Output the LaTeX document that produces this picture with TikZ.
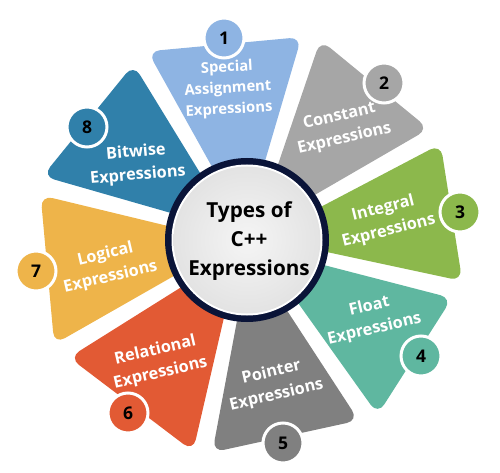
\documentclass[tikz,border=0pt]{standalone}
\usepackage{fontspec}
\newfontfamily\sbfont{Open Sans}
\usetikzlibrary{calc}
\definecolor{c1}{HTML}{8EB4E3}
\definecolor{c2}{HTML}{A6A6A6}
\definecolor{c3}{HTML}{8CB84C}
\definecolor{c4}{HTML}{5FB7A0}
\definecolor{c5}{HTML}{808080}
\definecolor{c6}{HTML}{E25A34}
\definecolor{c7}{HTML}{EEB44A}
\definecolor{c8}{HTML}{3080AA}
\definecolor{navy}{HTML}{0A1438}
\newcommand\gapw{5}
\newcommand\gapa{1.2}
\newcommand\mypetal[5]{%
  \pgfmathsetmacro\aL{-(#2)+\gapa}\pgfmathsetmacro\aLi{-(#2)+90}%
  \pgfmathsetmacro\aR{-(#4)-\gapa}\pgfmathsetmacro\aRi{-(#4)-90}%
  \fill[#1,rounded corners=12pt]
    ($(C)+(\aL:30)+(\aLi:\gapw)$) -- ($(C)+(\aL:#3)+(\aLi:\gapw)$) --
    ($(C)+(\aR:#5)+(\aRi:\gapw)$) -- ($(C)+(\aR:30)+(\aRi:\gapw)$) -- cycle;}
\begin{document}
\begin{tikzpicture}[x=1pt,y=-1pt,
  numc/.style={circle,draw=white,line width=3pt,minimum size=40pt,inner sep=0pt,
    text=black,font=\sbfont\bfseries\fontsize{17.5}{17.5}\selectfont},
  ptext/.style={text=white,align=center,inner sep=0pt,
    font=\sbfont\bfseries\fontsize{16.3}{23}\selectfont}]
\useasboundingbox (0,0) rectangle (500,473);
\coordinate (C) at (247,240);
% petals
\mypetal{c1}{120.3}{213}{72.4}{210}
\mypetal{c2}{72.4}{213}{28.9}{213}
\mypetal{c3}{28.9}{216}{-13.3}{219}
\mypetal{c4}{-13.3}{213}{-55.7}{218}
\mypetal{c5}{-55.7}{212}{-101.8}{215}
\mypetal{c6}{-101.8}{218}{-149.1}{213}
\mypetal{c7}{-149.1}{219}{-194.8}{211}
\mypetal{c8}{165.2}{214}{120.3}{209}
% centre circle
\fill[navy] (C) circle (82pt);
\fill[white] (C) circle (75.5pt);
\shade[inner color=gray!8,outer color=gray!22] (C) circle (73.5pt);
\node[font=\sbfont\bfseries\fontsize{20.7}{29}\selectfont,align=center,text=black] (ctr) at (249,241) {Types of\\C++\\Expressions};
% texts
\node[ptext,rotate=3,font=\sbfont\bfseries\fontsize{14.8}{21}\selectfont] (t1) at (228,89) {Special\\Assignment\\Expressions};
\node[ptext,rotate=13] (t2) at (342,128) {Constant\\Expressions};
\node[ptext,rotate=14] (t3) at (386,220) {Integral\\Expressions};
\node[ptext,rotate=13] (t4) at (372,318) {Float\\Expressions};
\node[ptext,rotate=13] (t5) at (274,384) {Pointer\\Expressions};
\node[ptext,rotate=13] (t6) at (158,362) {Relational\\Expressions};
\node[ptext,rotate=13] (t7) at (108,266) {Logical\\Expressions};
\node[ptext,rotate=5] (t8) at (137,164) {Bitwise\\Expressions};
% number badges
\node[numc,fill=c1] (n1) at (224,38) {1};
\node[numc,fill=c2] (n2) at (384,83) {2};
\node[numc,fill=c3] (n3) at (460,212) {3};
\node[numc,fill=c4] (n4) at (421,356) {4};
\node[numc,fill=c5] (n5) at (283,443) {5};
\node[numc,fill=c6] (n6) at (128,413) {6};
\node[numc,fill=c7] (n7) at (36,271) {7};
\node[numc,fill=c8] (n8) at (87,127) {8};
\end{tikzpicture}
\end{document}
